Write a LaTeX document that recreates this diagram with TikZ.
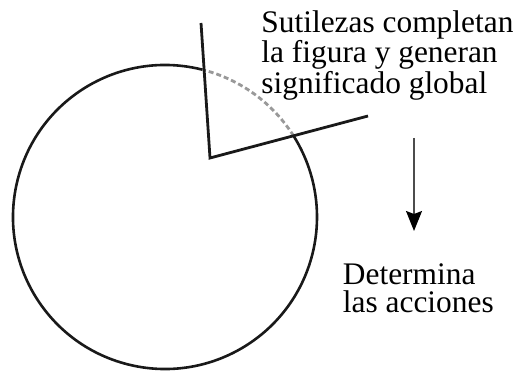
\documentclass[tikz,border=0pt]{standalone}
\usepackage{fontspec}
\setmainfont{Liberation Serif}
\usetikzlibrary{arrows.meta,calc}

\begin{document}
\begin{tikzpicture}[
  x=0.5pt,y=0.5pt,
  rim/.style={line width=1.3pt,black!90},
  gap/.style={line width=1.4pt,draw=black!40,dash pattern=on 2.5pt off 1.5pt},
  wedge/.style={line width=1.4pt,black!90,line join=miter},
  note/.style={anchor=north west,inner sep=0pt,align=left,
    font=\fontsize{15.7pt}{13.75pt}\selectfont},
  pointer/.style={-{Stealth[length=10pt,width=8pt,inset=1.5pt,color=black]},
    line width=0.7pt,draw=black!70}
]
  \useasboundingbox (0,0) rectangle (522,374);
  \coordinate (c) at (165,157);
  \coordinate (apex) at (210,216);
  \coordinate (tipU) at (201,351);
  \coordinate (tipR) at (368,258);

  \draw[rim] ($(c)+(75.7:152)$) arc[start angle=75.7,end angle=392.2,radius=152];
  \draw[gap] ($(c)+(32.2:152)$) arc[start angle=32.2,end angle=75.7,radius=152];
  \draw[wedge] (tipU) -- (apex) -- (tipR);

  \node[note] (sutil) at (261,364)
    {Sutilezas completan\\la figura y generan\\significado global};
  \node[note] (acciones) at (342.5,110.5) {Determina\\las acciones};

  \coordinate (arrtop) at (414,236);
  \coordinate (arrtip) at (414,143);
  \draw[pointer] (arrtop) -- (arrtip);
\end{tikzpicture}
\end{document}
